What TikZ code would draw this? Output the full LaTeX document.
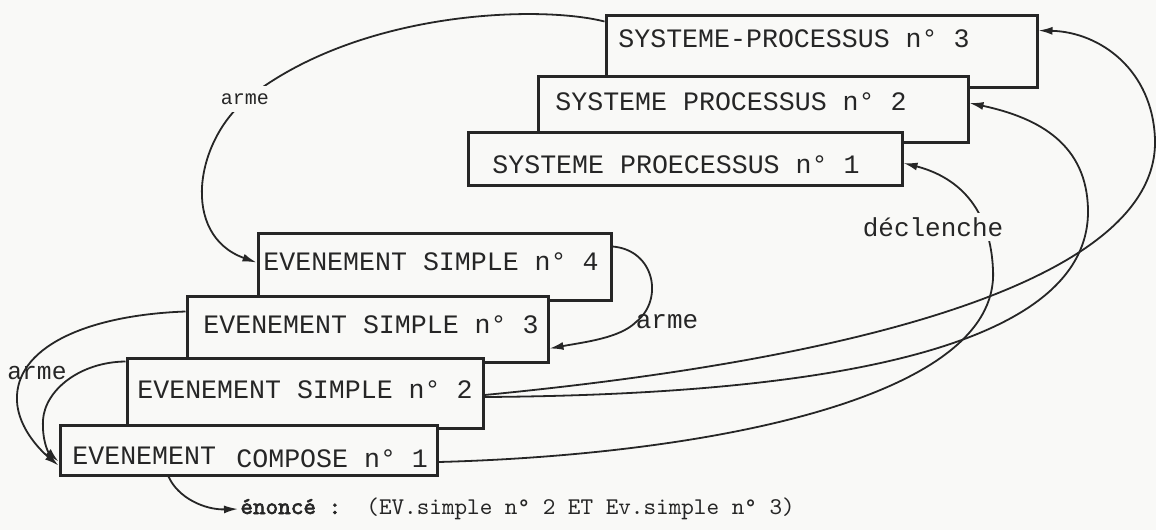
\documentclass[tikz,border=0pt]{standalone}
\usepackage{fontspec}
\usetikzlibrary{fit,arrows.meta}
\newfontfamily\typefont{Liberation Mono}
\newfontfamily\ttwide{lmmono10-regular.otf}
\newfontfamily\ttwidebf{lmmono10-regular.otf}[FakeBold=2.5]
\definecolor{paper}{RGB}{249,249,247}
\definecolor{ink}{RGB}{38,38,38}

\begin{document}
\begin{tikzpicture}[x=0.5pt,y=-0.5pt,
  box/.style={draw=ink, line width=1.5pt, fill=paper, inner sep=0pt},
  btext/.style={anchor=base west, inner sep=0pt, text=ink,
    font=\typefont\fontsize{13.3}{16}\selectfont},
  lbl/.style={text=ink, inner sep=2pt, font=\typefont\fontsize{13}{15}\selectfont},
  link/.style={draw=ink, line width=0.9pt},
  arr/.style={link, -{Latex[length=7pt,width=4pt]}},
]
\fill[paper] (0,0) rectangle (1156,530);
\useasboundingbox (0,0) rectangle (1156,530);

% process systems, back to front
\node[box, fit={(606,15) (1037,87)}] (sp3) {};
\node[btext] (sp3t) at (618,47) {SYSTEME-PROCESSUS n° 3};
\node[box, fit={(538,76) (968,142)}] (sp2) {};
\node[btext] (sp2t) at (555,110) {SYSTEME PROCESSUS n° 2};
\node[box, fit={(468,132) (902,185)}] (sp1) {};
\node[btext] (sp1t) at (492,173) {SYSTEME PROECESSUS n° 1};

% events, back to front
\node[box, fit={(258,233) (611,300)}] (es4) {};
\node[btext] (es4t) at (263,270) {EVENEMENT SIMPLE n° 4};
\node[box, fit={(187,296) (548,362)}] (es3) {};
\node[btext] (es3t) at (203,333) {EVENEMENT SIMPLE n° 3};
\node[box, fit={(127,358) (483,428)}] (es2) {};
\node[btext] (es2t) at (137,398) {EVENEMENT SIMPLE n° 2};
\node[box, fit={(60,425) (437,475)}] (ec1) {};
\node[btext] (ec1t) at (72,464) {EVENEMENT};
\node[btext] (ec1u) at (236,467) {COMPOSE n° 1};

% statement of the compound event
\node[anchor=base west, inner sep=0pt, text=ink, font=\fontsize{12}{14}\selectfont]
  (enonce) at (240,514) {{\ttwidebf énoncé :}{\ttwide\ \ (EV.simple n° 2 ET Ev.simple n° 3)}};
\draw[arr] ([xshift=55pt]ec1.south west) .. controls (178,498) and (205,510)
  .. ([xshift=-1pt,yshift=2.5pt]enonce.base west);

% system 3 arms event 4
\draw[arr] ([yshift=-4pt]sp3.north west) .. controls (540,5) and (360,10) .. (248,98)
  .. controls (195,140) and (180,235) .. ([yshift=2pt]es4.west);
\node[lbl, fill=paper, inner sep=4pt, font=\typefont\fontsize{10}{12}\selectfont] (arme1) at (245,99) {arme};

% event 4 arms event 3
\draw[arr] ([yshift=-7.5pt]es4.north east) .. controls (655,250) and (664,300) .. (636,322)
  .. controls (620,338) and (585,342) .. ([yshift=7.5pt]es3.south east);
\node[lbl] (arme2) at (667,322) {arme};

% events 3 and 2 arm the compound event
\draw[arr] ([yshift=-8.5pt]es3.north west) .. controls (90,315) and (20,345) .. (17,395)
  .. controls (15,425) and (40,450) .. ([yshift=5.5pt]ec1.south west);
\draw[arr] ([yshift=-2.5pt]es2.north west) .. controls (80,362) and (45,390) .. (43,420)
  .. controls (42,440) and (48,452) .. ([yshift=7.5pt]ec1.south west);
\node[lbl, font=\typefont\fontsize{12.3}{14}\selectfont] (arme3) at (37,373) {arme};

% triggers towards the process systems
\draw[arr] ([yshift=-6pt]ec1.east) .. controls (700,455) and (1000,400) .. (993,270)
  .. controls (990,200) and (950,175) .. ([yshift=-2.25pt]sp1.east);
\node[lbl, fill=paper] (decl) at (933,227) {déclenche};
\draw[arr] ([yshift=-2pt]es2.east) .. controls (780,395) and (1090,360) .. (1088,210)
  .. controls (1087,145) and (1040,118) .. ([yshift=3pt]sp2.east);
\draw[arr] ([yshift=-1pt]es2.east) .. controls (900,355) and (1158,270) .. (1155,140)
  .. controls (1153,70) and (1100,32) .. ([yshift=-8.5pt]sp3.north east);
\end{tikzpicture}
\end{document}
